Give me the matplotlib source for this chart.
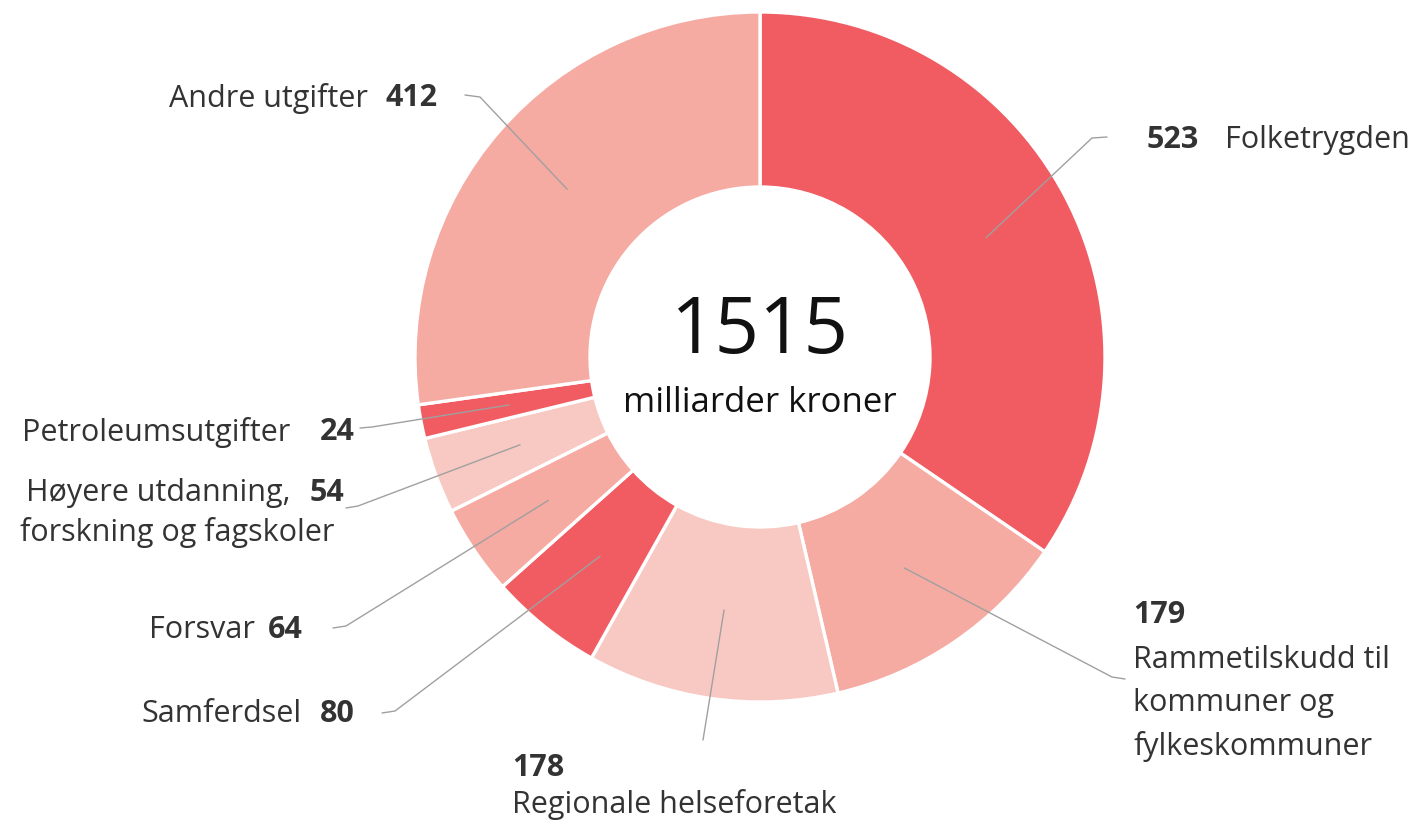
import matplotlib.pyplot as plt
import numpy as np

plt.rcParams["font.family"] = ["Open Sans", "DejaVu Sans"]

# data, clockwise from 12 o'clock
names = [
    "Folketrygden",
    "Rammetilskudd til\nkommuner og\nfylkeskommuner",
    "Regionale helseforetak",
    "Samferdsel",
    "Forsvar",
    "Høyere utdanning,\nforskning og fagskoler",
    "Petroleumsutgifter",
    "Andre utgifter",
]
values = [523, 179, 178, 80, 64, 54, 24, 412]
total_label = "1515"
unit_label = "milliarder kroner"

DARK = "#F05C62"
MID = "#F5AAA2"
LIGHT = "#F8C9C2"
colors = [DARK, MID, LIGHT, DARK, MID, LIGHT, DARK, MID]

TXT = "#333333"
LINE = "#A0A0A0"
FS = 22

# geometry in pixel coords (y grows down)
cx, cy = 760, 357
R_OUT = 345
R_W = 175

fig = plt.figure(figsize=(14.2, 8.25), dpi=100)
ax = fig.add_axes([0, 0, 1, 1])

# y axis is flipped, so counterclock in data = clockwise on screen
wedges, _ = ax.pie(
    values,
    colors=colors,
    startangle=-90,
    counterclock=True,
    radius=R_OUT,
    center=(cx, cy),
    wedgeprops=dict(width=R_W, edgecolor="white", linewidth=2.4),
)
ax.set_xlim(0, 1420)
ax.set_ylim(825, 0)
ax.set_aspect("equal")
ax.axis("off")

# center text
ax.text(cx, 332, total_label, ha="center", va="center", fontsize=56, color="#111111")
ax.text(cx, 403, unit_label, ha="center", va="center", fontsize=25, color="#111111")

# leader lines: anchor on mid-ring -> elbow -> end
r_anchor = R_OUT - R_W / 2 - 2
leader = [
    [(1092, 138), (1107, 137)],
    [(1112, 677), (1125, 679)],
    [(703, 740)],
    [(395, 711), (382, 713)],
    [(346, 626), (333, 628)],
    [(358, 506), (346, 508)],
    [(372, 427), (360, 428)],
    [(480, 97), (465, 95)],
]
for w, pts in zip(wedges, leader):
    th = np.deg2rad((w.theta1 + w.theta2) / 2)
    x0 = cx + r_anchor * np.cos(th)
    y0 = cy + r_anchor * np.sin(th)
    xs = [x0] + [p[0] for p in pts]
    ys = [y0] + [p[1] for p in pts]
    ax.plot(xs, ys, color=LINE, lw=1.0, solid_capstyle="round")


def lbl(x, y, s, ha="left", bold=False):
    ax.text(x, y, s, ha=ha, va="center", fontsize=FS, color=TXT,
            fontweight="bold" if bold else "normal")


# Folketrygden
lbl(1147, 140, str(values[0]), bold=True)
lbl(1225, 140, names[0])
# Rammetilskudd
lbl(1133, 615, str(values[1]), bold=True)
for i, line in enumerate(names[1].split("\n")):
    lbl(1133, 660 + 43 * i, line)
# Regionale
lbl(512, 768, str(values[2]), bold=True)
lbl(512, 805, names[2])
# Samferdsel
lbl(302, 714, names[3], ha="right")
lbl(320, 714, str(values[3]), bold=True)
# Forsvar
lbl(255, 630, names[4], ha="right")
lbl(268, 630, str(values[4]), bold=True)
# Hoyere utdanning
hy1, hy2 = names[5].split("\n")
lbl(290, 493, hy1, ha="right")
lbl(310, 493, str(values[5]), bold=True)
lbl(20, 532, hy2)
# Petroleum
lbl(290, 432, names[6], ha="right")
lbl(320, 432, str(values[6]), bold=True)
# Andre
lbl(368, 98, names[7], ha="right")
lbl(386, 98, str(values[7]), bold=True)

fig.savefig("out.png", dpi=100, facecolor="white")
